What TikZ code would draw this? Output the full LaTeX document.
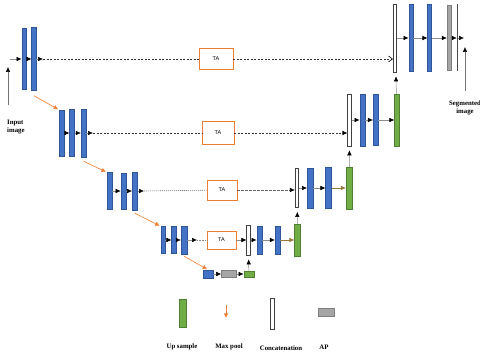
\documentclass[tikz,border=0pt]{standalone}
\usepackage{fontspec}
\setmainfont{Liberation Serif}
\setsansfont{Liberation Sans}
\usetikzlibrary{arrows.meta, positioning}
\definecolor{blueBlock}{HTML}{4472C4}
\definecolor{blueEdge}{HTML}{2F5597}
\definecolor{greenUp}{HTML}{70AD47}
\definecolor{greenEdge}{HTML}{507E32}
\definecolor{orangePool}{HTML}{ED7D31}
\definecolor{grayAP}{HTML}{A5A5A5}
\definecolor{grayEdge}{HTML}{7F7F7F}
\definecolor{brownLink}{HTML}{997A3D}

\begin{document}
\begin{tikzpicture}[
        x=1pt, y=-1pt,
        enc/.style={draw=blueEdge, fill=blueBlock, line width=0.4pt, inner sep=0pt, minimum width=4.5pt},
        up/.style={draw=greenEdge, fill=greenUp, line width=0.4pt, inner sep=0pt, minimum width=5.5pt},
        cat/.style={draw=black!75, fill=white, line width=0.6pt, inner sep=0pt, minimum width=3.5pt},
        ap/.style={draw=grayEdge, fill=grayAP, line width=0.4pt, inner sep=0pt, minimum width=4pt},
        ta/.style={draw=orangePool, fill=white, line width=0.7pt, inner sep=0pt,
            font=\sffamily\fontsize{5.5}{6}\selectfont},
        lbl/.style={font=\bfseries\fontsize{6.8}{8}\selectfont, align=center, inner sep=0pt},
        link/.style={draw=black!45, line width=0.5pt, -{Latex[black, length=5pt, width=4.5pt]}},
        uplink/.style={link, draw=brownLink, -{Latex[brownLink, length=5pt, width=4.5pt]}},
        rise/.style={link, shorten >=4pt},
        skip/.style={draw=black!80, line width=0.6pt, dash pattern=on 2pt off 1.5pt},
        skipin/.style={skip, -{Latex[black, length=5pt, width=4.5pt]}},
        pool/.style={draw=orangePool, line width=0.6pt, -{Latex[length=4.5pt, width=4.5pt]}, shorten >=1pt},
        note/.style={draw=black!55, line width=0.5pt, -{Latex[black, length=5pt, width=4.5pt]}}
    ]
        \useasboundingbox (0,0) rectangle (480,355);

        \node[enc, minimum height=61pt] (e11) at (24,59) {};
        \node[enc, minimum height=63pt, right=5pt of e11] (e12) {};
        \coordinate (in1) at (10,59);
        \coordinate (o1) at (43,59);
        \node[ta, minimum width=34pt, minimum height=21pt] (ta1) at (216,59) {TA};

        \node[enc, minimum height=46pt] (e21) at (61.5,133) {};
        \node[enc, minimum width=5pt, minimum height=47pt, right=5.5pt of e21] (e22) {};
        \node[enc, minimum width=5pt, minimum height=48pt, right=6pt of e22] (e23) {};
        \coordinate (o2) at (93,133);
        \node[ta, minimum width=32pt, minimum height=23pt] (ta2) at (218,133) {TA};

        \node[enc, minimum width=5pt, minimum height=37pt] (e31) at (109.5,191) {};
        \node[enc, minimum width=5pt, minimum height=36pt, right=8.5pt of e31] (e32) {};
        \node[enc, minimum width=5pt, minimum height=38pt, right=6pt of e32] (e33) {};
        \coordinate (o3) at (144,191);
        \node[ta, minimum width=30pt, minimum height=20pt] (ta3) at (222,190) {TA};

        \node[enc, minimum height=27pt] (e41) at (163,240) {};
        \node[enc, minimum width=5pt, minimum height=27pt, right=6pt of e41] (e42) {};
        \node[enc, minimum width=6pt, minimum height=28pt, right=4pt of e42] (e43) {};
        \coordinate (o4) at (197,240);
        \node[ta, minimum width=29pt, minimum height=18pt] (ta4) at (221.5,240) {TA};

        \node[enc, minimum width=10pt, minimum height=8pt] (b1) at (208,274) {};
        \node[ap, minimum width=15pt, minimum height=7pt, right=8pt of b1] (b2) {};
        \node[up, minimum width=10pt, minimum height=6pt, right=7pt of b2] (b3) {};

        \node[cat, minimum height=30pt] (c4) at (248.5,240) {};
        \node[enc, minimum width=5pt, minimum height=28pt, right=6pt of c4] (d41) {};
        \node[enc, minimum width=5pt, minimum height=28pt, right=13pt of d41] (d42) {};
        \node[up, minimum width=6pt, minimum height=32pt, right=14pt of d42] (u4) {};

        \node[cat, minimum height=39pt] (c3) at (297,188) {};
        \node[enc, minimum width=6pt, minimum height=40pt, right=8pt of c3] (d31) {};
        \node[enc, minimum width=6pt, minimum height=41pt, right=12pt of d31] (d32) {};
        \node[up, minimum width=6.5pt, minimum height=42pt, right=14pt of d32] (u3) {};

        \node[cat, minimum height=52pt] (c2) at (349.5,120) {};
        \node[enc, minimum width=5pt, minimum height=52pt, right=8pt of c2] (d21) {};
        \node[enc, minimum width=5pt, minimum height=51pt, right=8pt of d21] (d22) {};
        \node[up, minimum width=5pt, minimum height=52pt, right=16pt of d22] (u2) {};

        \node[cat, minimum height=68pt] (c1) at (395,38) {};
        \node[enc, minimum width=4pt, minimum height=67pt, right=11.5pt of c1] (d11) {};
        \node[enc, minimum width=4pt, minimum height=67pt, right=14.5pt of d11] (d12) {};
        \node[ap, minimum height=65pt, right=15pt of d12] (ap1) {};
        \node[fill=black!70, inner sep=0pt, minimum width=0.8pt, minimum height=67pt, right=5.5pt of ap1] (ln1) {};
        \coordinate (out1) at (464,38);

        \node[lbl, align=left, anchor=west] (inp) at (7,127) {Input\\image};
        \coordinate (intip) at (8,67);
        \node[lbl] (seg) at (465,108) {Segmented\\image};
        \coordinate (segtip) at (465,47);

        \draw[link] (in1) -- (e11);
        \draw[link] (e11) -- (e12);
        \draw[link] (e12) -- (o1);
        \draw[skip] (o1) -- (ta1);
        \draw[skip, -{Straight Barb[black, length=4pt, width=6pt]}] (ta1) -- (ta1 -| c1.west);
        \draw[link] (c1) -- (d11);
        \draw[link] (d11) -- (d12);
        \draw[link] (d12) -- (ap1);
        \draw[link] (ap1) -- (ln1);
        \draw[link] (ln1) -- (out1);

        \draw[link] (e21) -- (e22);
        \draw[link] (e22) -- (e23);
        \draw[link] (e23) -- (o2);
        \draw[skip] (o2) -- (ta2);
        \draw[skipin] (ta2) -- (ta2 -| c2.west);
        \draw[link] (c2) -- (d21);
        \draw[link] (d21) -- (d22);
        \draw[link] (d22) -- (u2);

        \draw[link] (e31) -- (e32);
        \draw[link] (e32) -- (e33);
        \draw[link] (e33) -- (o3);
        \draw[skip, draw=black!55, dash pattern=on 1pt off 1pt] (o3) -- (ta3);
        \draw[skipin, draw=black!60, dash pattern=on 2.5pt off 1.5pt] (ta3) -- (ta3 -| c3.west);
        \draw[link] (c3) -- (d31);
        \draw[link] (d31) -- (d32);
        \draw[uplink] (d32) -- (u3);

        \draw[link] (e41) -- (e42);
        \draw[link] (e42) -- (e43);
        \draw[link] (e43) -- (o4);
        \draw[skip, draw=black!45, dash pattern=on 0.8pt off 0.8pt] (o4) -- (ta4);
        \draw[link] (ta4) -- (c4);
        \draw[link] (c4) -- (d41);
        \draw[link] (d41) -- (d42);
        \draw[uplink] (d42) -- (u4);

        \draw[link] (b1) -- (b2);
        \draw[link] (b2) -- (b3);
        \draw[rise] (b3) -- (c4);
        \draw[rise] (u4) -- (c3);
        \draw[rise] (u3) -- (c2);
        \draw[rise] (u2) -- (c1);

        \draw[pool] ([yshift=-5pt]e12.south) -- (e21.north west);
        \draw[pool] ([yshift=-4pt]e23.south) -- (e31.north west);
        \draw[pool] ([yshift=-3pt]e33.south) -- (e41.north west);
        \draw[pool] ([yshift=-2pt]e43.south) -- (b1.north);

        \draw[note, shorten <=15pt] (inp.north -| intip) -- (intip);
        \draw[note, shorten <=10pt] (seg) -- (segtip);

        \node[up, minimum width=7pt, minimum height=28pt] (lgUp) at (182.5,313) {};
        \coordinate (lgPoolA) at (226,305);
        \coordinate (lgPoolB) at (226,318);
        \draw[pool, shorten >=0pt] (lgPoolA) -- (lgPoolB);
        \node[cat, minimum width=4pt, minimum height=31pt] (lgCat) at (272,313.5) {};
        \node[ap, minimum width=16pt, minimum height=8pt] (lgAP) at (326,312) {};
        \node[lbl] (lblUp) at (182,347) {Up sample};
        \node[lbl] (lblPool) at (229,347) {Max pool};
        \node[lbl] (lblCat) at (281,348) {Concatenation};
        \node[lbl] (lblAP) at (324,347) {AP};
    \end{tikzpicture}
\end{document}
